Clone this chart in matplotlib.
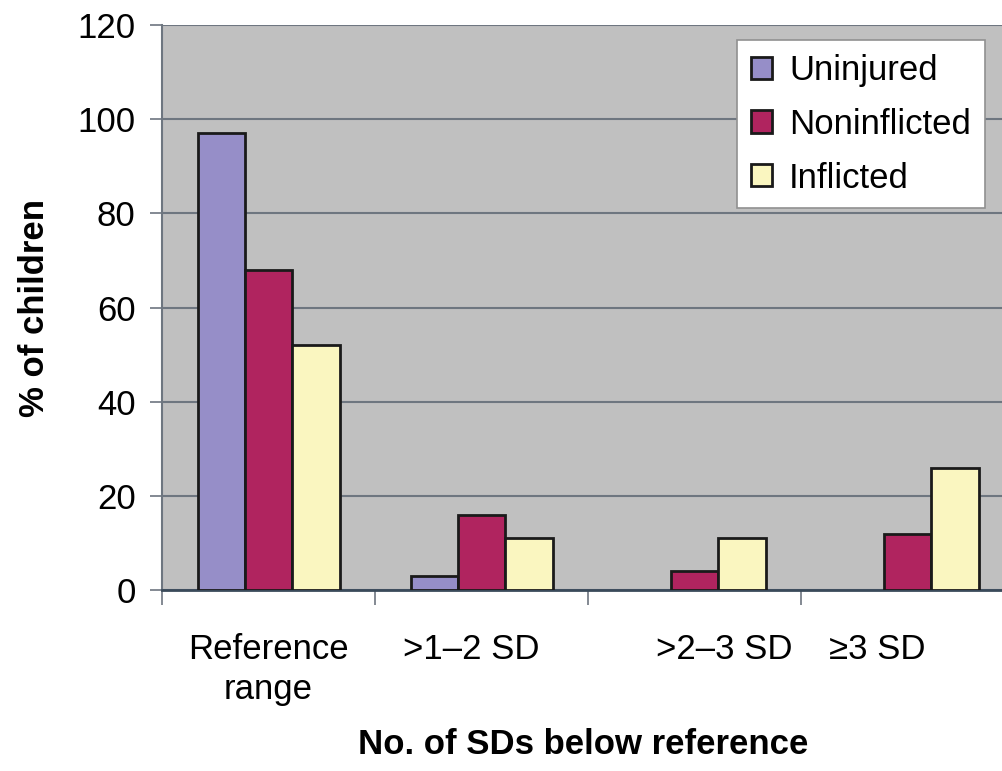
import numpy as np
import matplotlib.pyplot as plt
from matplotlib.transforms import blended_transform_factory

plt.rcParams["font.family"] = ["Liberation Sans", "DejaVu Sans"]

# Chart data
categories = ["Reference\nrange", ">1\u20132 SD", ">2\u20133 SD", "\u22653 SD"]
uninjured = [97, 3, 0, 0]
noninflicted = [68, 16, 4, 12]
inflicted = [52, 11, 11, 26]

SERIES = [
    ("Uninjured", uninjured, "#968ec8"),
    ("Noninflicted", noninflicted, "#b0245f"),
    ("Inflicted", inflicted, "#faf6c0"),
]

# label offsets (in category units) to mimic the original label placement
LABEL_SHIFT = [0.0, -0.05, 0.14, -0.14]

fig = plt.figure(figsize=(10.03, 7.71), dpi=100)
ax = fig.add_axes([162 / 1003, 181 / 771, 852 / 1003, 565 / 771])
ax.set_facecolor("#c0c0c0")

x = np.arange(len(categories))
width = 1 / 4.5
for i, (name, vals, color) in enumerate(SERIES):
    # skip zero-height bars so no outline shows at the baseline
    vals = np.array(vals, dtype=float)
    mask = vals > 0
    ax.bar(x[mask] + (i - 1) * width, vals[mask], width=width, color=color,
           edgecolor="#1a1a1a", linewidth=2, label=name, zorder=3)

ax.set_xlim(-0.5, 3.5)
ax.set_ylim(0, 120)
ax.set_yticks(range(0, 121, 20))
ax.yaxis.grid(True, color="#6e7680", linewidth=1.5, zorder=1)
ax.tick_params(axis="y", labelsize=25, length=9, width=1.2, color="#6e7680", pad=10)

# category ticks between groups, labels near group centers
ax.set_xticks(x + np.array(LABEL_SHIFT))
ax.set_xticklabels(categories, fontsize=25, linespacing=1.28)
ax.tick_params(axis="x", length=0, pad=31)
ax.set_xticks(np.arange(-0.5, 3.6, 1), minor=True)
ax.tick_params(axis="x", which="minor", length=11, width=1.2, color="#6e7680")

for side in ["top", "right"]:
    ax.spines[side].set_visible(False)
ax.spines["left"].set_color("#6e7680")
ax.spines["left"].set_linewidth(1.5)
ax.spines["bottom"].set_color("#3a4a5a")
ax.spines["bottom"].set_linewidth(2)

# axis titles
ax.set_xlabel("No. of SDs below reference", fontsize=25, fontweight="bold")
ax.set_ylabel("% of children", fontsize=25, fontweight="bold")
ax.xaxis.set_label_coords((583 - 162) / 852, -(745 - 590) / 565)
ax.xaxis.label.set_va("center")
ax.yaxis.set_label_coords(35 / 1003, 0.5)
ax.yaxis.label.set_transform(blended_transform_factory(fig.transFigure, ax.transAxes))
ax.yaxis.label.set_va("center")

leg = ax.legend(loc="upper left", bbox_to_anchor=(737 / 1003, 1 - 40 / 771),
                bbox_transform=fig.transFigure,
                fontsize=25, frameon=True, fancybox=False, handlelength=0.6,
                handleheight=0.6, handletextpad=0.5, labelspacing=0.6,
                borderpad=0.4, borderaxespad=0)
leg.get_frame().set_edgecolor("#909090")
leg.get_frame().set_linewidth(1.2)
leg.get_frame().set_facecolor("white")
leg.get_frame().set_alpha(1)

fig.savefig("out.png", dpi=100)
